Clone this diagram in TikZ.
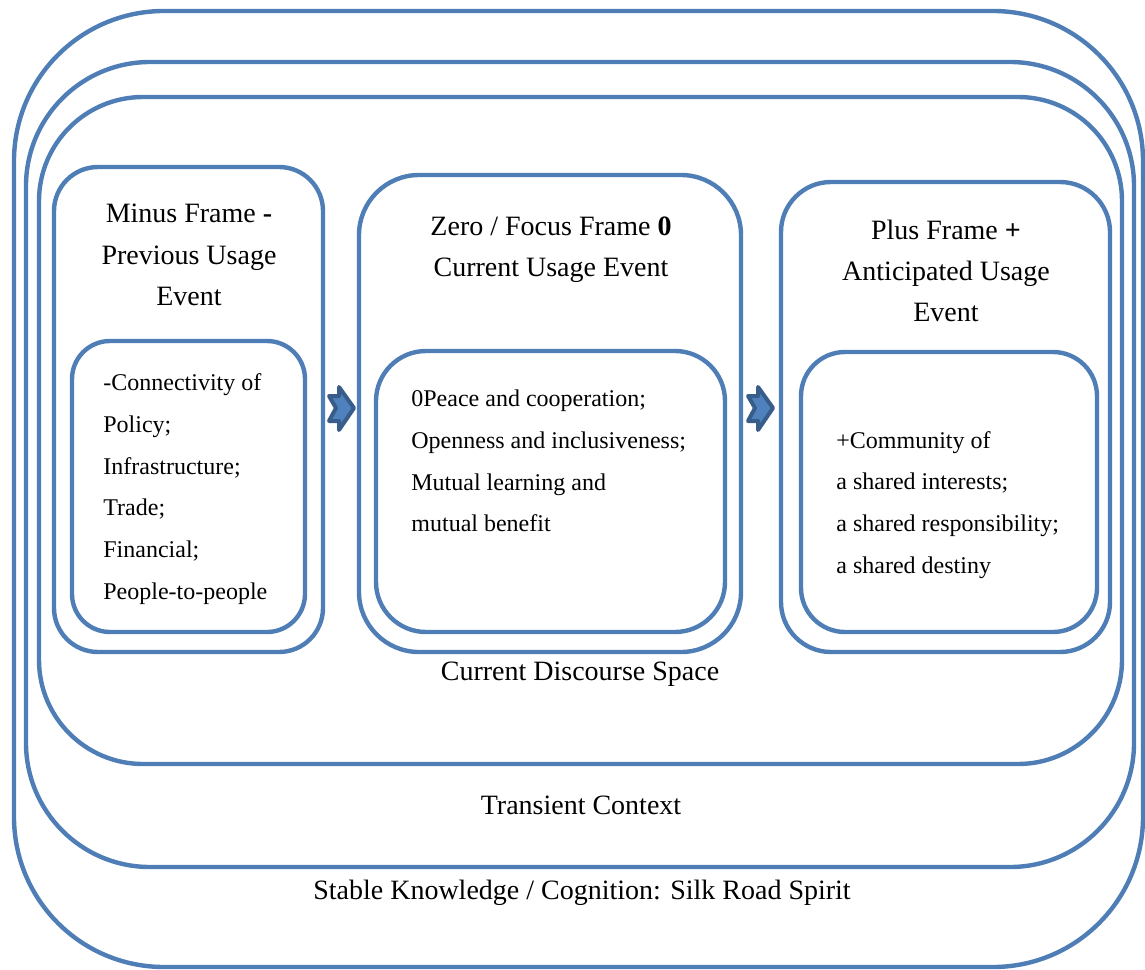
\documentclass[tikz,border=0pt]{standalone}
\usepackage{fontspec}
\setmainfont{Liberation Serif}
\definecolor{frameblue}{RGB}{79,126,182}
\definecolor{arrowfill}{RGB}{79,129,189}
\definecolor{arrowline}{RGB}{56,93,138}
\begin{document}
\begin{tikzpicture}[x=0.5pt,y=-0.5pt,
  frame/.style={draw=frameblue,line width=2.2pt},
  chevron/.style={draw=arrowline,fill=arrowfill,line width=2pt,line join=round},
  title/.style={inner sep=0pt,align=center,font=\fontsize{14pt}{20.6pt}\selectfont},
  items/.style={inner sep=0pt,align=left,anchor=west,font=\fontsize{12pt}{20.9pt}\selectfont},
  label/.style={inner sep=0pt,font=\fontsize{14pt}{16pt}\selectfont}]
\useasboundingbox (0,0) rectangle (1145,969);
% nested contexts
\draw[frame,rounded corners=75pt] (14,11) rectangle (1143,967);
\draw[frame,rounded corners=62pt] (26,62) rectangle (1134,867);
\draw[frame,rounded corners=52pt] (39,97) rectangle (1122,764);
% minus frame
\draw[frame,rounded corners=22pt] (54,167) rectangle (323,652);
\draw[frame,rounded corners=19pt] (72,341) rectangle (305,632);
% zero frame
\draw[frame,rounded corners=30pt] (359,175) rectangle (741,652);
\draw[frame,rounded corners=25pt] (376,351) rectangle (725,632);
% plus frame
\draw[frame,rounded corners=25pt] (781,182) rectangle (1110,652);
\draw[frame,rounded corners=22pt] (801,352) rectangle (1097,632);
% chevron arrows
\draw[chevron] (329,396) -- (339,396) -- (339,387) -- (354,408) -- (339,430) -- (339,421) -- (329,421) -- (336,408) -- cycle;
\draw[chevron] (748,396) -- (758,396) -- (758,387) -- (773,408) -- (758,430) -- (758,421) -- (748,421) -- (755,408) -- cycle;
% texts
\node[title] (tminus) at (189,255) {Minus Frame \textbf{-}\\Previous Usage\\Event};
\node[title] (tzero) at (551,250) {Zero / Focus Frame \textbf{0}\\Current Usage Event};
\node[title] (tplus) at (946,271) {Plus Frame \textbf{+}\\Anticipated Usage\\Event};
\node[items] (lminus) at (103,489) {-Connectivity of\\Policy;\\Infrastructure;\\Trade;\\Financial;\\People-to-people};
\node[items] (lzero) at (411,461) {0Peace and cooperation;\\Openness and inclusiveness;\\Mutual learning and\\mutual benefit};
\node[items] (lplus) at (836,505) {+Community of\\a shared interests;\\a shared responsibility;\\a shared destiny};
\node[label] (cds) at (580,674) {Current Discourse Space};
\node[label] (tc) at (581,805) {Transient Context};
\node[label] (sk) at (582,893) {Stable Knowledge / Cognition: Silk Road Spirit};
\end{tikzpicture}
\end{document}
